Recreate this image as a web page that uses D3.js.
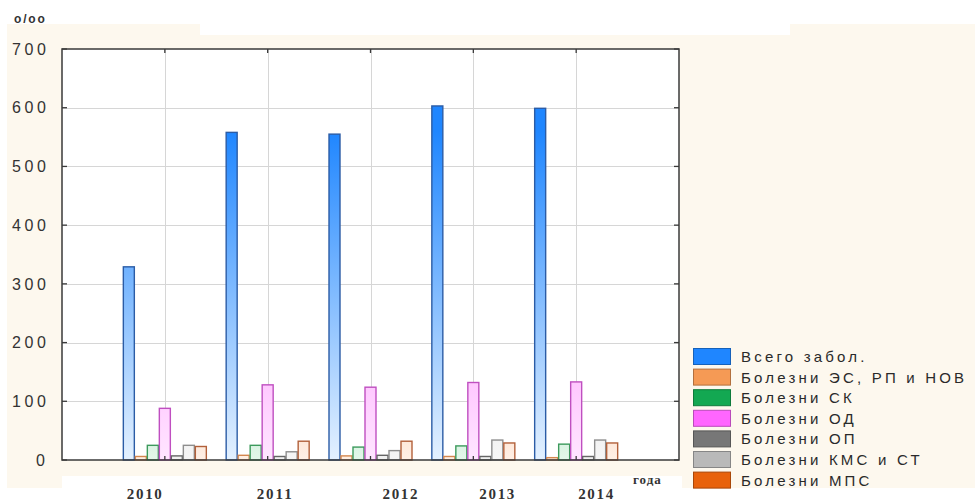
<!DOCTYPE html>
<html>
<head>
<meta charset="utf-8">
<script src="https://cdn.jsdelivr.net/npm/d3@7"></script>
<style>
  html, body { margin: 0; padding: 0; background: #ffffff; }
  svg { display: block; }
</style>
</head>
<body>
<svg id="chart" width="975" height="502"></svg>
<script>
// Morbidity rates per 1000 (‰), by year and disease group
const years = ["2010", "2011", "2012", "2013", "2014"];
const seriesNames = [
  "Всего забол.",
  "Болезни ЭС, РП и НОВ",
  "Болезни СК",
  "Болезни ОД",
  "Болезни ОП",
  "Болезни КМС и СТ",
  "Болезни МПС"
];
const totalAll = [329, 558, 555, 603, 599];
const esRp     = [6, 8, 7, 6, 4];
const sk       = [25, 25, 22, 24, 27];
const od       = [88, 128, 124, 132, 133];
const op       = [7, 6, 8, 6, 6];
const kms      = [25, 14, 16, 34, 34];
const mps      = [23, 32, 32, 29, 29];
const seriesValues = [totalAll, esRp, sk, od, op, kms, mps];
const yTicks = [0, 100, 200, 300, 400, 500, 600, 700];
const yUnit = "o/oo";
const xTitle = "года";

// colours: solid (legend / bar top), light (bar bottom), outline
const solid   = ["#1f86ff", "#f59a55", "#13a852", "#ff66ff", "#777777", "#b9b9b9", "#e8620c"];
const light   = ["#e4f1ff", "#fff0e4", "#e4f7ea", "#ffe6ff", "#f2f2f2", "#f6f6f6", "#fff0e6"];
const outline = ["#2b5ca6", "#d4874f", "#3c9a5c", "#bf4fc0", "#666666", "#8e8e8e", "#b2603a"];

// year captions sit a little off the category centres
const yearLabelShift = [-20, 7, 30, 24, 20];

const svg = d3.select("#chart");
const W = 975, H = 502;
const plot = { left: 62, right: 679, top: 49, bottom: 460 };

// cream page background
const cream = "#fdf8ee";
svg.append("rect").attr("x", 0).attr("y", 0).attr("width", W).attr("height", H).attr("fill", "#ffffff");
svg.append("path")
  .attr("fill", cream)
  .attr("d", "M7,24 H200 V35 H790 V24 H975 V488 H682 V476 H62 V488 H7 Z");

// scales
const x = d3.scaleLinear().domain([0, years.length + 1]).range([plot.left, plot.right]);
const inner = d3.scaleBand().domain(seriesNames).range([-42, 42]);
const y = d3.scaleLinear().domain([0, 700]).range([plot.bottom, plot.top]);

// plot area
svg.append("rect")
  .attr("x", plot.left).attr("y", plot.top)
  .attr("width", plot.right - plot.left).attr("height", plot.bottom - plot.top)
  .attr("fill", "#ffffff");

// grid
const grid = svg.append("g").attr("stroke", "#d6d6d6").attr("stroke-width", 1);
grid.selectAll("line.h").data(yTicks.slice(1, -1)).join("line")
  .attr("x1", plot.left).attr("x2", plot.right)
  .attr("y1", d => Math.round(y(d)) + 0.5).attr("y2", d => Math.round(y(d)) + 0.5);
grid.selectAll("line.v").data(years).join("line")
  .attr("x1", (d, i) => Math.round(x(i + 1)) + 0.5).attr("x2", (d, i) => Math.round(x(i + 1)) + 0.5)
  .attr("y1", plot.top).attr("y2", plot.bottom);

// vertical gradients spanning the full value range
const defs = svg.append("defs");
seriesNames.forEach((name, s) => {
  const g = defs.append("linearGradient")
    .attr("id", "grad" + s)
    .attr("gradientUnits", "userSpaceOnUse")
    .attr("x1", 0).attr("x2", 0)
    .attr("y1", y(700)).attr("y2", y(0));
  g.append("stop").attr("offset", 0).attr("stop-color", solid[s]);
  g.append("stop").attr("offset", 0.2).attr("stop-color", solid[s]);
  g.append("stop").attr("offset", 1).attr("stop-color", light[s]);
});

// bars
const bars = svg.append("g");
seriesNames.forEach((name, s) => {
  bars.append("g")
    .selectAll("rect")
    .data(seriesValues[s])
    .join("rect")
    .attr("x", (d, i) => x(i + 1) + inner(name) + 0.5)
    .attr("y", d => y(d))
    .attr("width", inner.bandwidth() - 1)
    .attr("height", d => y(0) - y(d))
    .attr("fill", "url(#grad" + s + ")")
    .attr("stroke", outline[s])
    .attr("stroke-width", 1.4);
});

// frame and inward ticks
const frameColor = "#3a3a3a";
svg.append("rect")
  .attr("x", plot.left).attr("y", plot.top)
  .attr("width", plot.right - plot.left).attr("height", plot.bottom - plot.top)
  .attr("fill", "none").attr("stroke", frameColor).attr("stroke-width", 1.5);

const ticks = svg.append("g").attr("stroke", frameColor).attr("stroke-width", 1.3);
ticks.selectAll("line.l").data(yTicks).join("line")
  .attr("x1", plot.left).attr("x2", plot.left + 5)
  .attr("y1", d => y(d)).attr("y2", d => y(d));
ticks.selectAll("line.r").data(yTicks).join("line")
  .attr("x1", plot.right - 5).attr("x2", plot.right)
  .attr("y1", d => y(d)).attr("y2", d => y(d));
ticks.selectAll("line.t").data(years).join("line")
  .attr("x1", (d, i) => x(i + 1)).attr("x2", (d, i) => x(i + 1))
  .attr("y1", plot.top).attr("y2", plot.top + 4);
ticks.selectAll("line.b").data(years).join("line")
  .attr("x1", (d, i) => x(i + 1)).attr("x2", (d, i) => x(i + 1))
  .attr("y1", plot.bottom - 4).attr("y2", plot.bottom);

// y tick labels: wide digits, right edge aligned at x = 48
const digitW = 12;
svg.append("g")
  .selectAll("text").data(yTicks).join("text")
  .attr("x", d => 48 - String(d).length * digitW)
  .attr("y", d => y(d))
  .attr("dy", "0.36em")
  .attr("textLength", d => String(d).length * digitW - 2)
  .attr("lengthAdjust", "spacing")
  .attr("font-family", "Liberation Sans, Arial, sans-serif")
  .attr("font-size", 16)
  .attr("fill", "#333333")
  .text(d => d);

// unit label
svg.append("text")
  .attr("x", 14).attr("y", 23)
  .attr("font-family", "Liberation Sans, Arial, sans-serif")
  .attr("font-size", 12).attr("font-weight", "bold")
  .attr("letter-spacing", "1.8px")
  .attr("fill", "#333333")
  .text(yUnit);

// year labels
svg.append("g")
  .selectAll("text").data(years).join("text")
  .attr("x", (d, i) => x(i + 1) + yearLabelShift[i] - 18)
  .attr("y", 499)
  .attr("textLength", 35)
  .attr("lengthAdjust", "spacing")
  .attr("font-family", "Liberation Serif, Times New Roman, serif")
  .attr("font-size", 15).attr("font-weight", "bold")
  .attr("fill", "#333333")
  .text(d => d);

// x axis title
svg.append("text")
  .attr("x", 633).attr("y", 484)
  .attr("font-family", "Liberation Serif, Times New Roman, serif")
  .attr("font-size", 13).attr("font-weight", "bold")
  .attr("letter-spacing", "1px")
  .attr("fill", "#333333")
  .text(xTitle);

// legend
const legend = svg.append("g").attr("transform", "translate(693,348)");
const rowH = 20.6;
const rows = legend.selectAll("g").data(seriesNames).join("g")
  .attr("transform", (d, i) => `translate(0,${i * rowH})`);
rows.append("rect")
  .attr("x", 0.5).attr("y", 0.5).attr("width", 37).attr("height", 16)
  .attr("fill", (d, i) => solid[i])
  .attr("stroke", (d, i) => d3.color(solid[i]).darker(0.9))
  .attr("stroke-width", 1);
rows.append("text")
  .attr("x", 48).attr("y", 14)
  .attr("font-family", "Liberation Sans, Arial, sans-serif")
  .attr("font-size", 15)
  .attr("letter-spacing", "3.2px")
  .attr("fill", "#2a2a2a")
  .text(d => d);
</script>
</body>
</html>
